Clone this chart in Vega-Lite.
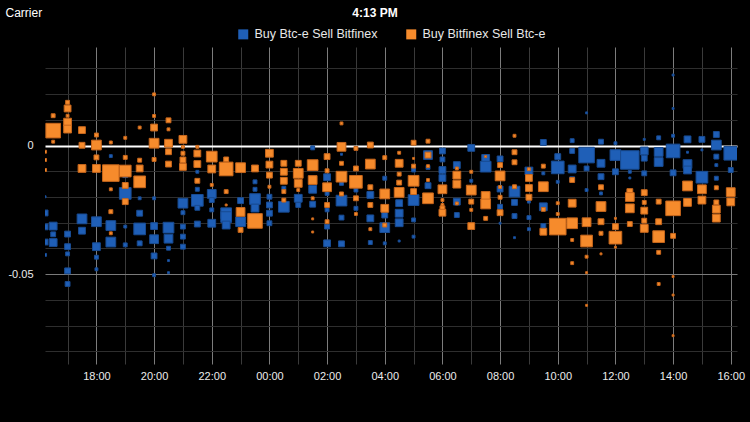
{
"$schema":"https://vega.github.io/schema/vega-lite/v6.json",
"autosize":{"type":"none"},
"padding":{"left":45,"top":47,"right":13,"bottom":58},
"width":692,"height":317,
"background":"#000000",
"title":{"text":"4:13 PM","anchor":"middle","frame":"group","dx":-16,"offset":-19,"fontSize":12,"fontWeight":"bold","color":"#ffffff","font":"Liberation Sans","baseline":"middle"},
"config":{"view":{"stroke":null},"font":"Liberation Sans"},
"data":{"values":[
{"t":16.22,"v":-0.0199,"q":0.1,"s":"b"},{"t":16.22,"v":-0.0262,"q":0.9,"s":"b"},{"t":16.22,"v":-0.0316,"q":0.9,"s":"b"},{"t":16.22,"v":-0.0375,"q":0.9,"s":"b"},{"t":16.22,"v":-0.0425,"q":0.22,"s":"b"},
{"t":16.5,"v":-0.0313,"q":1.6,"s":"b"},{"t":16.5,"v":-0.0345,"q":0.62,"s":"b"},{"t":16.5,"v":-0.0377,"q":1.6,"s":"b"},
{"t":17,"v":-0.0344,"q":0.9,"s":"b"},{"t":17,"v":-0.0393,"q":0.9,"s":"b"},{"t":17,"v":-0.0421,"q":0.4,"s":"b"},{"t":17,"v":-0.0487,"q":0.9,"s":"b"},{"t":17,"v":-0.0538,"q":0.62,"s":"b"},
{"t":17.5,"v":-0.0285,"q":2.5,"s":"b"},{"t":17.5,"v":-0.0331,"q":1.22,"s":"b"},
{"t":18,"v":-0.0296,"q":2.5,"s":"b"},{"t":18,"v":-0.0393,"q":1.6,"s":"b"},{"t":18,"v":-0.0434,"q":0.4,"s":"b"},{"t":18,"v":-0.0481,"q":0.22,"s":"b"},
{"t":18.5,"v":-0.0041,"q":0.22,"s":"b"},{"t":18.5,"v":-0.0311,"q":2.5,"s":"b"},{"t":18.5,"v":-0.0375,"q":2.5,"s":"b"},
{"t":19,"v":-0.0115,"q":0.62,"s":"b"},{"t":19,"v":-0.0186,"q":3.6,"s":"b"},{"t":19,"v":-0.0315,"q":0.22,"s":"b"},{"t":19,"v":-0.0386,"q":0.4,"s":"b"},
{"t":19.5,"v":-0.0205,"q":0.22,"s":"b"},{"t":19.5,"v":-0.0263,"q":0.9,"s":"b"},{"t":19.5,"v":-0.0324,"q":3.6,"s":"b"},{"t":19.5,"v":-0.038,"q":0.62,"s":"b"},
{"t":20,"v":-0.0205,"q":0.22,"s":"b"},{"t":20,"v":-0.0313,"q":1.22,"s":"b"},{"t":20,"v":-0.0364,"q":2.02,"s":"b"},{"t":20,"v":-0.0429,"q":0.9,"s":"b"},{"t":20,"v":-0.0504,"q":0.22,"s":"b"},
{"t":20.5,"v":-0.0319,"q":3.02,"s":"b"},{"t":20.5,"v":-0.0362,"q":2.02,"s":"b"},{"t":20.5,"v":-0.0399,"q":0.4,"s":"b"},{"t":20.5,"v":-0.0447,"q":0.1,"s":"b"},{"t":20.5,"v":-0.0494,"q":0.1,"s":"b"},
{"t":21,"v":-0.0224,"q":2.5,"s":"b"},{"t":21,"v":-0.0261,"q":0.4,"s":"b"},{"t":21,"v":-0.0315,"q":0.62,"s":"b"},{"t":21,"v":-0.0354,"q":0.62,"s":"b"},{"t":21,"v":-0.0393,"q":0.62,"s":"b"},
{"t":21.5,"v":-0.0102,"q":0.22,"s":"b"},{"t":21.5,"v":-0.017,"q":0.4,"s":"b"},{"t":21.5,"v":-0.0213,"q":3.6,"s":"b"},{"t":21.5,"v":-0.0242,"q":0.62,"s":"b"},{"t":21.5,"v":-0.0305,"q":0.9,"s":"b"},
{"t":22,"v":-0.0188,"q":2.02,"s":"b"},{"t":22,"v":-0.0212,"q":0.62,"s":"b"},{"t":22,"v":-0.025,"q":0.4,"s":"b"},{"t":22,"v":-0.0302,"q":1.6,"s":"b"},
{"t":22.5,"v":-0.0263,"q":3.02,"s":"b"},{"t":22.5,"v":-0.0278,"q":3.02,"s":"b"},{"t":22.5,"v":-0.0309,"q":1.6,"s":"b"},
{"t":23,"v":-0.0214,"q":0.9,"s":"b"},{"t":23,"v":-0.0296,"q":2.5,"s":"b"},
{"t":23.5,"v":-0.0141,"q":0.4,"s":"b"},{"t":23.5,"v":-0.017,"q":0.4,"s":"b"},{"t":23.5,"v":-0.0208,"q":3.02,"s":"b"},{"t":23.5,"v":-0.0243,"q":1.6,"s":"b"},
{"t":24,"v":-0.0199,"q":0.62,"s":"b"},{"t":24,"v":-0.0231,"q":0.9,"s":"b"},{"t":24,"v":-0.0263,"q":0.9,"s":"b"},{"t":24,"v":-0.0302,"q":0.62,"s":"b"},
{"t":24.5,"v":-0.0166,"q":0.4,"s":"b"},{"t":24.5,"v":-0.0238,"q":3.02,"s":"b"},
{"t":25,"v":-0.0205,"q":1.6,"s":"b"},{"t":25,"v":-0.0231,"q":0.62,"s":"b"},
{"t":25.5,"v":-0.0009,"q":0.4,"s":"b"},{"t":25.5,"v":-0.017,"q":1.6,"s":"b"},{"t":25.5,"v":-0.0228,"q":0.9,"s":"b"},
{"t":26,"v":-0.0123,"q":1.22,"s":"b"},{"t":26,"v":-0.0186,"q":0.4,"s":"b"},{"t":26,"v":-0.025,"q":0.4,"s":"b"},{"t":26,"v":-0.0315,"q":0.62,"s":"b"},{"t":26,"v":-0.038,"q":1.22,"s":"b"},
{"t":26.5,"v":-0.0034,"q":0.1,"s":"b"},{"t":26.5,"v":-0.0147,"q":0.4,"s":"b"},{"t":26.5,"v":-0.0214,"q":3.02,"s":"b"},{"t":26.5,"v":-0.028,"q":0.62,"s":"b"},{"t":26.5,"v":-0.0382,"q":0.9,"s":"b"},
{"t":27,"v":-0.0173,"q":0.4,"s":"b"},{"t":27,"v":-0.0244,"q":0.4,"s":"b"},
{"t":27.5,"v":-0.0192,"q":1.22,"s":"b"},{"t":27.5,"v":-0.0283,"q":1.22,"s":"b"},{"t":27.5,"v":-0.0377,"q":0.4,"s":"b"},
{"t":28,"v":-0.0127,"q":0.4,"s":"b"},{"t":28,"v":-0.027,"q":0.9,"s":"b"},{"t":28,"v":-0.0319,"q":2.5,"s":"b"},{"t":28,"v":-0.038,"q":0.22,"s":"b"},
{"t":28.5,"v":-0.0224,"q":1.22,"s":"b"},{"t":28.5,"v":-0.0263,"q":1.6,"s":"b"},{"t":28.5,"v":-0.03,"q":1.6,"s":"b"},{"t":28.5,"v":-0.0371,"q":0.1,"s":"b"},
{"t":29,"v":-0.0095,"q":0.4,"s":"b"},{"t":29,"v":-0.0212,"q":3.02,"s":"b"},{"t":29,"v":-0.0289,"q":0.4,"s":"b"},{"t":29,"v":-0.0354,"q":0.22,"s":"b"},
{"t":29.5,"v":-0.0037,"q":2.02,"s":"b"},{"t":29.5,"v":-0.0085,"q":0.4,"s":"b"},{"t":29.5,"v":-0.0156,"q":0.9,"s":"b"},
{"t":30,"v":-0.0021,"q":0.9,"s":"b"},{"t":30,"v":-0.0054,"q":0.62,"s":"b"},{"t":30,"v":-0.0095,"q":1.22,"s":"b"},{"t":30,"v":-0.0126,"q":1.22,"s":"b"},
{"t":30.5,"v":-0.0076,"q":1.22,"s":"b"},{"t":30.5,"v":-0.0218,"q":1.22,"s":"b"},{"t":30.5,"v":-0.027,"q":0.62,"s":"b"},
{"t":31,"v":-0.0009,"q":1.22,"s":"b"},{"t":31,"v":-0.0137,"q":0.22,"s":"b"},
{"t":31.5,"v":-0.005,"q":1.6,"s":"b"},{"t":31.5,"v":-0.0082,"q":3.02,"s":"b"},
{"t":32,"v":-0.0052,"q":0.9,"s":"b"},{"t":32,"v":-0.0169,"q":0.9,"s":"b"},{"t":32,"v":-0.0238,"q":0.62,"s":"b"},{"t":32,"v":-0.0302,"q":0.1,"s":"b"},
{"t":32.5,"v":-0.0179,"q":3.02,"s":"b"},{"t":32.5,"v":-0.0221,"q":0.9,"s":"b"},{"t":32.5,"v":-0.0274,"q":0.62,"s":"b"},{"t":32.5,"v":-0.0358,"q":0.1,"s":"b"},
{"t":33,"v":-0.0099,"q":1.6,"s":"b"},{"t":33,"v":-0.0218,"q":0.22,"s":"b"},{"t":33,"v":-0.028,"q":0.4,"s":"b"},{"t":33,"v":-0.0325,"q":0.22,"s":"b"},
{"t":33.5,"v":0.0012,"q":0.9,"s":"b"},{"t":33.5,"v":-0.0108,"q":0.22,"s":"b"},{"t":33.5,"v":-0.0238,"q":1.6,"s":"b"},{"t":33.5,"v":-0.0313,"q":0.62,"s":"b"},
{"t":34,"v":-0.0043,"q":0.9,"s":"b"},{"t":34,"v":-0.0085,"q":4.22,"s":"b"},{"t":34,"v":-0.0141,"q":0.22,"s":"b"},
{"t":34.5,"v":0.0019,"q":0.4,"s":"b"},{"t":34.5,"v":-0.0021,"q":0.62,"s":"b"},{"t":34.5,"v":-0.0091,"q":1.6,"s":"b"},{"t":34.5,"v":-0.0131,"q":0.62,"s":"b"},
{"t":35,"v":0.0127,"q":0.1,"s":"b"},{"t":35,"v":-0.0037,"q":6.4,"s":"b"},{"t":35,"v":-0.0089,"q":0.62,"s":"b"},{"t":35,"v":-0.0173,"q":0.22,"s":"b"},
{"t":35.5,"v":0.0015,"q":0.62,"s":"b"},{"t":35.5,"v":-0.0069,"q":1.6,"s":"b"},{"t":35.5,"v":-0.0121,"q":0.9,"s":"b"},{"t":35.5,"v":-0.0186,"q":0.22,"s":"b"},
{"t":36,"v":0.0009,"q":0.22,"s":"b"},{"t":36,"v":-0.0037,"q":3.02,"s":"b"},{"t":36,"v":-0.0102,"q":0.9,"s":"b"},
{"t":36.5,"v":-0.0056,"q":9.02,"s":"b"},{"t":36.5,"v":-0.0102,"q":0.22,"s":"b"},{"t":36.5,"v":-0.0126,"q":0.1,"s":"b"},
{"t":37,"v":0.0024,"q":0.1,"s":"b"},{"t":37,"v":-0.0021,"q":1.6,"s":"b"},{"t":37,"v":-0.0049,"q":0.9,"s":"b"},{"t":37,"v":-0.0108,"q":0.62,"s":"b"},
{"t":37.5,"v":0.003,"q":0.4,"s":"b"},{"t":37.5,"v":-0.0025,"q":2.02,"s":"b"},{"t":37.5,"v":-0.0064,"q":2.02,"s":"b"},
{"t":38,"v":0.0274,"q":0.1,"s":"b"},{"t":38,"v":0.0144,"q":0.1,"s":"b"},{"t":38,"v":0.0038,"q":0.22,"s":"b"},{"t":38,"v":-0.0021,"q":4.9,"s":"b"},{"t":38,"v":-0.0106,"q":0.9,"s":"b"},
{"t":38.5,"v":0.0024,"q":1.22,"s":"b"},{"t":38.5,"v":-0.0026,"q":0.1,"s":"b"},{"t":38.5,"v":-0.0072,"q":2.02,"s":"b"},{"t":38.5,"v":-0.0095,"q":1.6,"s":"b"},
{"t":39,"v":0.0024,"q":0.9,"s":"b"},{"t":39,"v":-0.0017,"q":0.1,"s":"b"},{"t":39,"v":-0.0123,"q":3.6,"s":"b"},
{"t":39.5,"v":0.0043,"q":0.9,"s":"b"},{"t":39.5,"v":0.0002,"q":2.5,"s":"b"},{"t":39.5,"v":-0.0043,"q":0.62,"s":"b"},{"t":39.5,"v":-0.0076,"q":0.22,"s":"b"},{"t":39.5,"v":-0.0127,"q":0.4,"s":"b"},
{"t":40,"v":-0.003,"q":4.9,"s":"b"},{"t":40,"v":-0.0095,"q":0.62,"s":"b"},
{"t":16.22,"v":-0.0024,"q":0.22,"s":"o"},{"t":16.22,"v":-0.0056,"q":0.22,"s":"o"},{"t":16.22,"v":-0.0095,"q":0.22,"s":"o"},
{"t":16.5,"v":0.0116,"q":0.4,"s":"o"},{"t":16.5,"v":0.0058,"q":5.62,"s":"o"},{"t":16.5,"v":0.0015,"q":0.22,"s":"o"},
{"t":17,"v":0.0168,"q":0.4,"s":"o"},{"t":17,"v":0.0144,"q":1.22,"s":"o"},{"t":17,"v":0.0091,"q":1.6,"s":"o"},{"t":17,"v":0.0064,"q":1.6,"s":"o"},{"t":17,"v":0.0116,"q":0.22,"s":"o"},
{"t":17.5,"v":0.006,"q":1.22,"s":"o"},{"t":17.5,"v":0.0001,"q":0.9,"s":"o"},{"t":17.5,"v":-0.0089,"q":1.6,"s":"o"},
{"t":18,"v":0.0041,"q":0.4,"s":"o"},{"t":18,"v":0.0002,"q":2.5,"s":"o"},{"t":18,"v":-0.0046,"q":0.62,"s":"o"},{"t":18,"v":-0.0089,"q":1.6,"s":"o"},
{"t":18.5,"v":0.0012,"q":0.22,"s":"o"},{"t":18.5,"v":-0.0107,"q":7.22,"s":"o"},{"t":18.5,"v":-0.017,"q":0.22,"s":"o"},{"t":18.5,"v":-0.0257,"q":0.4,"s":"o"},{"t":18.5,"v":-0.0341,"q":0.22,"s":"o"},
{"t":19,"v":0.003,"q":0.22,"s":"o"},{"t":19,"v":-0.0046,"q":0.4,"s":"o"},{"t":19,"v":-0.0099,"q":3.6,"s":"o"},{"t":19,"v":-0.0155,"q":0.9,"s":"o"},{"t":19,"v":-0.0218,"q":0.9,"s":"o"},
{"t":19.5,"v":0.007,"q":0.22,"s":"o"},{"t":19.5,"v":-0.0057,"q":0.4,"s":"o"},{"t":19.5,"v":-0.0089,"q":1.22,"s":"o"},{"t":19.5,"v":-0.0141,"q":3.6,"s":"o"},
{"t":20,"v":0.0199,"q":0.22,"s":"o"},{"t":20,"v":0.0115,"q":0.22,"s":"o"},{"t":20,"v":0.007,"q":1.22,"s":"o"},{"t":20,"v":0.0009,"q":2.5,"s":"o"},{"t":20,"v":-0.0054,"q":0.4,"s":"o"},
{"t":20.5,"v":0.0098,"q":0.62,"s":"o"},{"t":20.5,"v":0.0063,"q":0.22,"s":"o"},{"t":20.5,"v":0.0009,"q":1.6,"s":"o"},{"t":20.5,"v":-0.0024,"q":0.9,"s":"o"},{"t":20.5,"v":-0.0072,"q":0.9,"s":"o"},
{"t":21,"v":0.0024,"q":1.6,"s":"o"},{"t":21,"v":-0.0005,"q":0.22,"s":"o"},{"t":21,"v":-0.003,"q":0.4,"s":"o"},{"t":21,"v":-0.0056,"q":0.9,"s":"o"},{"t":21,"v":-0.0083,"q":1.22,"s":"o"},
{"t":21.5,"v":-0.0005,"q":0.22,"s":"o"},{"t":21.5,"v":-0.0031,"q":1.22,"s":"o"},{"t":21.5,"v":-0.0072,"q":1.22,"s":"o"},{"t":21.5,"v":-0.0137,"q":0.62,"s":"o"},
{"t":22,"v":-0.0043,"q":3.02,"s":"o"},{"t":22,"v":-0.0091,"q":1.6,"s":"o"},{"t":22,"v":-0.0153,"q":0.22,"s":"o"},
{"t":22.5,"v":-0.0054,"q":0.62,"s":"o"},{"t":22.5,"v":-0.0091,"q":4.9,"s":"o"},{"t":22.5,"v":-0.0179,"q":0.4,"s":"o"},{"t":22.5,"v":-0.0231,"q":0.1,"s":"o"},
{"t":23,"v":-0.0086,"q":2.5,"s":"o"},{"t":23,"v":-0.0258,"q":2.02,"s":"o"},{"t":23,"v":-0.0328,"q":0.62,"s":"o"},
{"t":23.5,"v":-0.0089,"q":1.22,"s":"o"},{"t":23.5,"v":-0.0293,"q":5.62,"s":"o"},
{"t":24,"v":-0.003,"q":1.6,"s":"o"},{"t":24,"v":-0.0074,"q":1.22,"s":"o"},{"t":24,"v":-0.0115,"q":0.9,"s":"o"},{"t":24,"v":-0.016,"q":0.22,"s":"o"},
{"t":24.5,"v":-0.0069,"q":0.9,"s":"o"},{"t":24.5,"v":-0.0102,"q":1.22,"s":"o"},{"t":24.5,"v":-0.0137,"q":1.22,"s":"o"},{"t":24.5,"v":-0.0179,"q":0.4,"s":"o"},{"t":24.5,"v":-0.0212,"q":0.4,"s":"o"},
{"t":25,"v":-0.0069,"q":0.9,"s":"o"},{"t":25,"v":-0.0108,"q":2.5,"s":"o"},{"t":25,"v":-0.0147,"q":1.6,"s":"o"},{"t":25,"v":-0.0173,"q":0.22,"s":"o"},
{"t":25.5,"v":-0.0076,"q":3.02,"s":"o"},{"t":25.5,"v":-0.0134,"q":2.02,"s":"o"},{"t":25.5,"v":-0.0205,"q":0.22,"s":"o"},{"t":25.5,"v":-0.0285,"q":0.1,"s":"o"},{"t":25.5,"v":-0.0336,"q":0.1,"s":"o"},
{"t":26,"v":-0.0043,"q":0.9,"s":"o"},{"t":26,"v":-0.0098,"q":0.4,"s":"o"},{"t":26,"v":-0.0162,"q":2.02,"s":"o"},{"t":26,"v":-0.0231,"q":0.62,"s":"o"},{"t":26,"v":-0.0296,"q":0.4,"s":"o"},
{"t":26.5,"v":0.0086,"q":0.22,"s":"o"},{"t":26.5,"v":-0.0005,"q":2.02,"s":"o"},{"t":26.5,"v":-0.0069,"q":0.4,"s":"o"},{"t":26.5,"v":-0.0121,"q":3.02,"s":"o"},{"t":26.5,"v":-0.0188,"q":0.4,"s":"o"},
{"t":27,"v":-0.0011,"q":0.4,"s":"o"},{"t":27,"v":-0.0089,"q":0.62,"s":"o"},{"t":27,"v":-0.0141,"q":4.22,"s":"o"},{"t":27,"v":-0.0205,"q":0.62,"s":"o"},{"t":27,"v":-0.0266,"q":0.22,"s":"o"},
{"t":27.5,"v":0.0002,"q":0.9,"s":"o"},{"t":27.5,"v":-0.0072,"q":2.5,"s":"o"},{"t":27.5,"v":-0.0162,"q":0.62,"s":"o"},{"t":27.5,"v":-0.0231,"q":0.62,"s":"o"},{"t":27.5,"v":-0.0325,"q":0.22,"s":"o"},
{"t":28,"v":-0.0047,"q":0.4,"s":"o"},{"t":28,"v":-0.0188,"q":2.5,"s":"o"},{"t":28,"v":-0.0244,"q":1.6,"s":"o"},{"t":28,"v":-0.0309,"q":0.4,"s":"o"},
{"t":28.5,"v":-0.0028,"q":0.22,"s":"o"},{"t":28.5,"v":-0.0069,"q":1.6,"s":"o"},{"t":28.5,"v":-0.0111,"q":0.4,"s":"o"},{"t":28.5,"v":-0.0144,"q":0.62,"s":"o"},{"t":28.5,"v":-0.0182,"q":2.5,"s":"o"},
{"t":29,"v":0.0011,"q":0.62,"s":"o"},{"t":29,"v":-0.005,"q":0.1,"s":"o"},{"t":29,"v":-0.008,"q":0.4,"s":"o"},{"t":29,"v":-0.0137,"q":3.02,"s":"o"},{"t":29,"v":-0.0179,"q":0.9,"s":"o"},
{"t":29.5,"v":0.0017,"q":0.4,"s":"o"},{"t":29.5,"v":-0.0037,"q":0.9,"s":"o"},{"t":29.5,"v":-0.008,"q":0.22,"s":"o"},{"t":29.5,"v":-0.0134,"q":0.22,"s":"o"},{"t":29.5,"v":-0.0205,"q":3.02,"s":"o"},
{"t":30,"v":-0.017,"q":2.02,"s":"o"},{"t":30,"v":-0.0212,"q":0.22,"s":"o"},{"t":30,"v":-0.0231,"q":0.22,"s":"o"},{"t":30,"v":-0.0244,"q":0.62,"s":"o"},{"t":30,"v":-0.0261,"q":1.22,"s":"o"},
{"t":30.5,"v":-0.0089,"q":0.22,"s":"o"},{"t":30.5,"v":-0.0115,"q":1.6,"s":"o"},{"t":30.5,"v":-0.015,"q":1.6,"s":"o"},{"t":30.5,"v":-0.0225,"q":0.22,"s":"o"},
{"t":31,"v":-0.0102,"q":0.22,"s":"o"},{"t":31,"v":-0.0173,"q":2.5,"s":"o"},{"t":31,"v":-0.0218,"q":0.62,"s":"o"},{"t":31,"v":-0.025,"q":0.22,"s":"o"},{"t":31,"v":-0.0313,"q":1.22,"s":"o"},
{"t":31.5,"v":-0.0043,"q":0.1,"s":"o"},{"t":31.5,"v":-0.0196,"q":2.02,"s":"o"},{"t":31.5,"v":-0.0227,"q":2.5,"s":"o"},{"t":31.5,"v":-0.0283,"q":0.4,"s":"o"},
{"t":32,"v":-0.0076,"q":0.62,"s":"o"},{"t":32,"v":-0.0118,"q":2.5,"s":"o"},{"t":32,"v":-0.0161,"q":0.22,"s":"o"},{"t":32,"v":-0.0201,"q":0.4,"s":"o"},{"t":32,"v":-0.0261,"q":0.9,"s":"o"},
{"t":32.5,"v":0.0038,"q":0.22,"s":"o"},{"t":32.5,"v":-0.0026,"q":0.62,"s":"o"},{"t":32.5,"v":-0.0065,"q":0.62,"s":"o"},{"t":32.5,"v":-0.016,"q":0.4,"s":"o"},
{"t":33,"v":-0.0092,"q":0.22,"s":"o"},{"t":33,"v":-0.0126,"q":1.22,"s":"o"},{"t":33,"v":-0.0165,"q":1.22,"s":"o"},{"t":33,"v":-0.0201,"q":0.9,"s":"o"},
{"t":33.5,"v":-0.008,"q":0.4,"s":"o"},{"t":33.5,"v":-0.016,"q":2.5,"s":"o"},{"t":33.5,"v":-0.0248,"q":0.4,"s":"o"},{"t":33.5,"v":-0.0335,"q":1.22,"s":"o"},
{"t":34,"v":-0.0224,"q":0.22,"s":"o"},{"t":34,"v":-0.0266,"q":0.22,"s":"o"},{"t":34,"v":-0.0315,"q":7.22,"s":"o"},
{"t":34.5,"v":-0.0134,"q":0.62,"s":"o"},{"t":34.5,"v":-0.0224,"q":1.6,"s":"o"},{"t":34.5,"v":-0.0302,"q":3.02,"s":"o"},{"t":34.5,"v":-0.0367,"q":0.22,"s":"o"},{"t":34.5,"v":-0.0457,"q":0.22,"s":"o"},
{"t":35,"v":-0.0298,"q":2.02,"s":"o"},{"t":35,"v":-0.0371,"q":3.6,"s":"o"},{"t":35,"v":-0.0432,"q":0.22,"s":"o"},{"t":35,"v":-0.0494,"q":0.1,"s":"o"},{"t":35,"v":-0.0621,"q":0.1,"s":"o"},
{"t":35.5,"v":-0.0162,"q":0.62,"s":"o"},{"t":35.5,"v":-0.0237,"q":2.5,"s":"o"},{"t":35.5,"v":-0.0296,"q":0.9,"s":"o"},{"t":35.5,"v":-0.0341,"q":0.4,"s":"o"},{"t":35.5,"v":-0.0421,"q":0.1,"s":"o"},
{"t":36,"v":-0.0283,"q":0.1,"s":"o"},{"t":36,"v":-0.0315,"q":0.9,"s":"o"},{"t":36,"v":-0.0358,"q":4.22,"s":"o"},{"t":36,"v":-0.0395,"q":0.1,"s":"o"},
{"t":36.5,"v":-0.0179,"q":0.9,"s":"o"},{"t":36.5,"v":-0.02,"q":2.02,"s":"o"},{"t":36.5,"v":-0.0244,"q":2.02,"s":"o"},{"t":36.5,"v":-0.0305,"q":0.62,"s":"o"},
{"t":37,"v":-0.0183,"q":0.9,"s":"o"},{"t":37,"v":-0.0221,"q":0.4,"s":"o"},{"t":37,"v":-0.0253,"q":1.22,"s":"o"},{"t":37,"v":-0.0292,"q":0.62,"s":"o"},{"t":37,"v":-0.0322,"q":1.6,"s":"o"},
{"t":37.5,"v":-0.0218,"q":0.62,"s":"o"},{"t":37.5,"v":-0.0296,"q":0.9,"s":"o"},{"t":37.5,"v":-0.0354,"q":3.6,"s":"o"},{"t":37.5,"v":-0.0415,"q":0.4,"s":"o"},{"t":37.5,"v":-0.0538,"q":0.22,"s":"o"},
{"t":38,"v":-0.0244,"q":5.62,"s":"o"},{"t":38,"v":-0.0351,"q":0.62,"s":"o"},{"t":38,"v":-0.0509,"q":0.1,"s":"o"},{"t":38,"v":-0.0581,"q":0.1,"s":"o"},{"t":38,"v":-0.0739,"q":0.1,"s":"o"},
{"t":38.5,"v":-0.0157,"q":2.5,"s":"o"},{"t":38.5,"v":-0.0221,"q":1.6,"s":"o"},
{"t":39,"v":-0.017,"q":2.02,"s":"o"},{"t":39,"v":-0.0212,"q":1.6,"s":"o"},
{"t":39.5,"v":-0.0164,"q":0.4,"s":"o"},{"t":39.5,"v":-0.0221,"q":0.62,"s":"o"},{"t":39.5,"v":-0.0247,"q":1.6,"s":"o"},{"t":39.5,"v":-0.0282,"q":1.6,"s":"o"},
{"t":40,"v":-0.0181,"q":2.02,"s":"o"},{"t":40,"v":-0.0219,"q":1.6,"s":"o"}
]},
"mark":{"type":"point","shape":"square","filled":true,"clip":true,"strokeWidth":1,"opacity":1},
"encoding":{
"x":{"field":"t","type":"quantitative","scale":{"domain":[16.2167,40.2167],"nice":false,"zero":false},
 "axis":{"title":null,"values":[17,18,19,20,21,22,23,24,25,26,27,28,29,30,31,32,33,34,35,36,37,38,39,40],
 "labelExpr":"datum.value % 2 == 0 ? ((datum.value % 24) < 10 ? '0' : '') + (datum.value % 24) + ':00' : ''",
 "grid":true,"gridColor":{"condition":{"test":"datum.value % 2 == 0","value":"#7c7c7c"},"value":"#3a3a3a"},
 "domain":false,"ticks":false,"labelColor":"#ececec","labelFontSize":11,"labelPadding":6,"labelOverlap":false,"labelFlush":false}},
"y":{"field":"v","type":"quantitative","scale":{"domain":[-0.0849,0.0383],"nice":false,"zero":false},
 "axis":{"title":"Carrier","titleAngle":0,"titleX":-40,"titleY":-35,"titleAlign":"left","titleBaseline":"middle","titleColor":"#ffffff","titleFontSize":12,"titleFontWeight":"normal",
 "values":[-0.08,-0.07,-0.06,-0.05,-0.04,-0.03,-0.02,-0.01,0,0.01,0.02,0.03],
 "labelExpr":"datum.value == 0 ? '0' : (abs(datum.value + 0.05) < 0.0001 ? '-0.05' : '')",
 "grid":true,"gridColor":{"condition":[{"test":"datum.value == 0","value":"#ffffff"},{"test":"abs(datum.value + 0.05) < 0.0001","value":"#7a7a7a"}],"value":"#2e2e2e"},
 "gridWidth":{"condition":{"test":"datum.value == 0","value":2},"value":1},
 "domain":false,"ticks":false,"labelColor":"#ececec","labelFontSize":11,"labelPadding":12,"labelOverlap":false,"labelFlush":false}},
"fill":{"field":"s","type":"nominal","scale":{"domain":["b","o"],"range":["#1f5fb7","#f68b2c"]},
 "legend":{"title":null,"orient":"none","legendX":192,"legendY":-19,"direction":"horizontal","symbolType":"square","symbolSize":100,"symbolStrokeWidth":0,"labelColor":"#e8e8e8","labelFontSize":12.5,"labelOffset":5,"columnPadding":27,
 "labelExpr":"datum.label == 'b' ? 'Buy Btc-e Sell Bitfinex' : 'Buy Bitfinex Sell Btc-e'"}},
"stroke":{"field":"s","type":"nominal","scale":{"domain":["b","o"],"range":["#184b92","#c7661c"]},"legend":null},
"size":{"field":"q","type":"quantitative","scale":{"domain":[0,10],"range":[0,380]},"legend":null}
}
}
